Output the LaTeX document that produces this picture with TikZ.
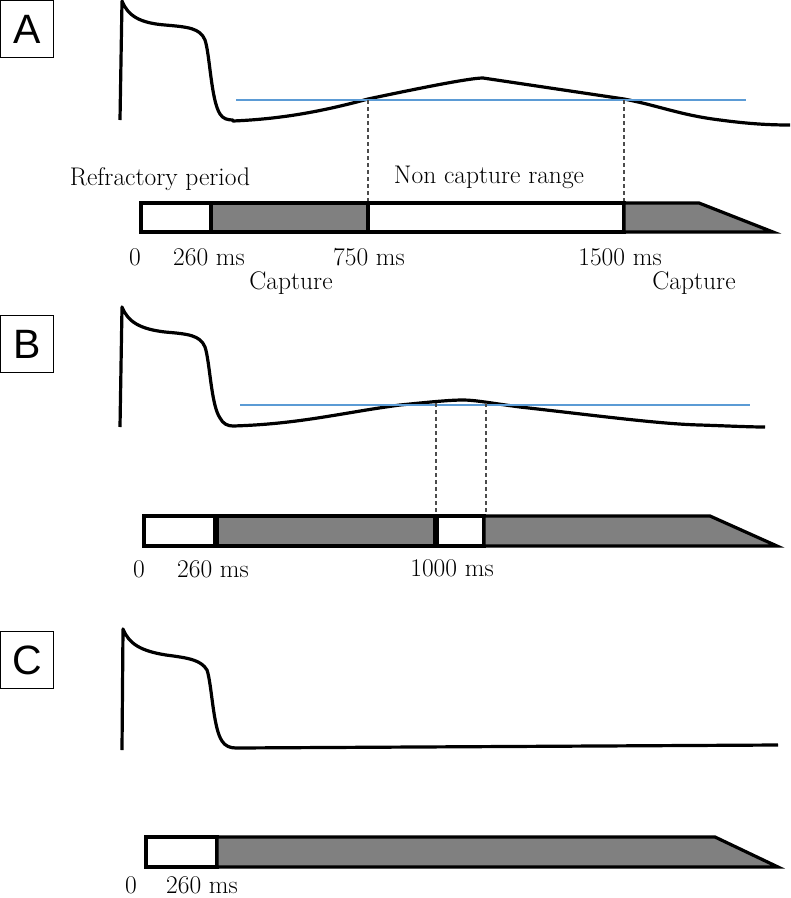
\documentclass[tikz,border=0pt]{standalone}
\usepackage{fontspec}
\newfontfamily\panelfont{Liberation Sans}
\definecolor{thrblue}{HTML}{5B9BD5}
\definecolor{bargray}{HTML}{808080}
\tikzset{
  ap_line/.style = {draw=black, line width=3.2pt, line join=round},% potentiel d'action
  thr_line/.style = {draw=thrblue, line width=1.4pt},% seuil
  guide/.style = {draw=black!70, line width=1.3pt, dash pattern=on 4pt off 3pt},
  bar_w/.style = {draw=black, fill=white, line width=3.2pt},% periode blanche
  bar_g/.style = {bar_w, fill=bargray},% periode grise
  lbl/.style = {inner sep=0pt, anchor=base, font=\fontsize{25.5}{30}\selectfont},
  panel/.style = {draw=black, line width=1.2pt, inner sep=0pt, minimum width=53pt,
    minimum height=57pt, font=\panelfont\fontsize{41}{42}\selectfont}
}

\begin{document}
\begin{tikzpicture}[x=1pt, y=-1pt]
\useasboundingbox (0,0) rectangle (791,898);

% A
\node [panel] (pA) at (27,29) {A};
\draw [ap_line] (120,120) -- (122,1) .. controls (128,16) and (140,23) .. (165,25)
  .. controls (188,27) and (200,28) .. (205,40) .. controls (210,55) and (211,100) .. (220,114)
  .. controls (223,119) and (228,120) .. (233,120) -- (233,121)
  .. controls (280,119) and (320,112) .. (368,99) .. controls (420,88) and (470,78) .. (483,78)
  -- (624,99)
  .. controls (660,106) and (680,115) .. (720,120) .. controls (750,124) and (770,125) .. (790,125);
\draw [thr_line] (236,100) -- (746,100);
\coordinate (a1) at (368,100); \coordinate (a1b) at (368,203);
\coordinate (a2) at (624,100); \coordinate (a2b) at (624,203);
\draw [guide] (a1) -- (a1b);
\draw [guide] (a2) -- (a2b);
\draw [bar_w] (141,203) rectangle (211,232);
\draw [bar_g] (211,203) rectangle (368,232);
\draw [bar_w] (368,203) rectangle (624,232);
\draw [bar_g] (624,203) -- (699,203) -- (773,232) -- (624,232) -- cycle;
\node [lbl] (refr) at (160,185) {Refractory period};
\node [lbl] (nocap) at (489,183) {Non capture range};
\node [lbl] (a0) at (135,265) {0};
\node [lbl] (a260) at (209,265) {260 ms};
\node [lbl] (a750) at (369,265) {750 ms};
\node [lbl] (a1500) at (620,265) {1500 ms};
\node [lbl] (capL) at (291,289) {Capture};
\node [lbl] (capR) at (694,289) {Capture};

% B
\node [panel] (pB) at (27,344) {B};
\draw [ap_line] (120,427) -- (122,307) .. controls (128,322) and (140,329) .. (165,332)
  .. controls (188,334) and (200,335) .. (205,347) .. controls (210,362) and (211,405) .. (220,418)
  .. controls (223,424) and (228,426) .. (233,426)
  .. controls (300,424) and (340,413) .. (400,405) .. controls (430,402) and (450,400) .. (463,400)
  .. controls (475,400) and (490,403) .. (520,407) .. controls (600,416) and (660,424) .. (700,425)
  .. controls (730,426) and (750,427) .. (765,427);
\draw [thr_line] (240,405) -- (750,405);
\coordinate (b1) at (436,403); \coordinate (b1b) at (436,516);
\coordinate (b2) at (486,403); \coordinate (b2b) at (486,516);
\draw [guide] (b1) -- (b1b);
\draw [guide] (b2) -- (b2b);
\draw [bar_w] (144,516) rectangle (215,546);
\draw [bar_g] (217,516) rectangle (435,546);
\draw [bar_w] (437,516) rectangle (484,546);
\draw [bar_g] (484,516) -- (710,516) -- (777,546) -- (484,546) -- cycle;
\node [lbl] (b0) at (139,577) {0};
\node [lbl] (b260) at (213,577) {260 ms};
\node [lbl] (b1000) at (452,576) {1000 ms};

% C
\node [panel] (pC) at (27,660) {C};
\draw [ap_line] (122,750) -- (123,629) .. controls (129,644) and (141,651) .. (166,655)
  .. controls (189,658) and (201,660) .. (207,670) .. controls (212,685) and (213,728) .. (222,741)
  .. controls (225,746) and (230,748) .. (236,748) -- (778,745);
\draw [bar_w] (146,837) rectangle (217,867);
\draw [bar_g] (217,837) -- (715,837) -- (778,867) -- (217,867) -- cycle;
\node [lbl] (c0) at (131,893) {0};
\node [lbl] (c260) at (202,893) {260 ms};
\end{tikzpicture}
\end{document}
